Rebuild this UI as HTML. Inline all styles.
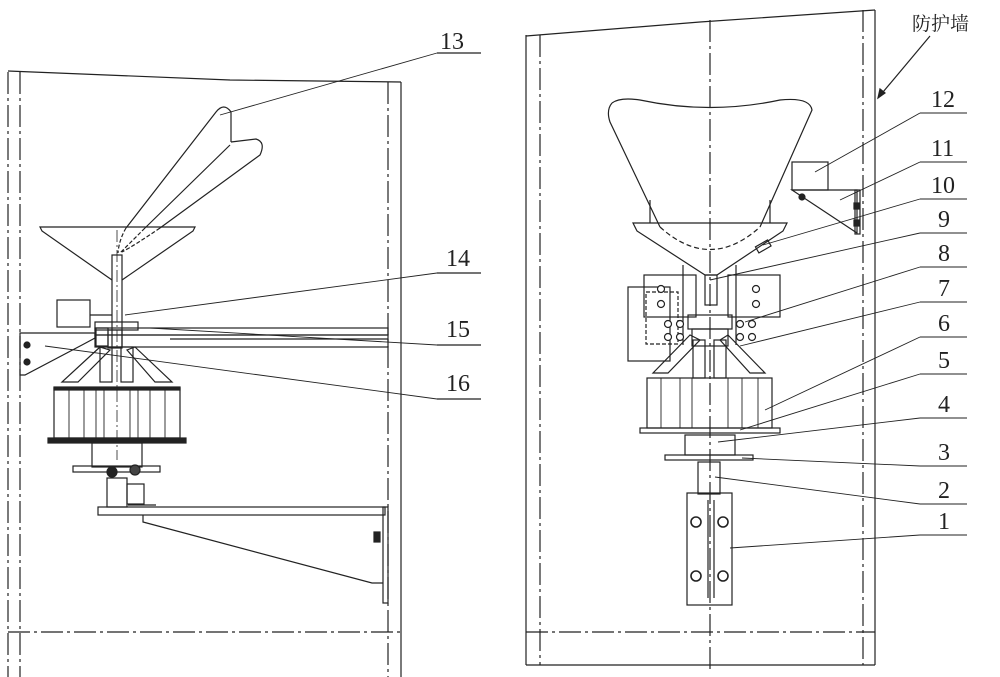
<!DOCTYPE html>
<html><head><meta charset="utf-8"><style>
html,body{margin:0;padding:0;background:#fff;width:1000px;height:677px;overflow:hidden}
svg{display:block}
text{font-family:"Liberation Serif","Noto Serif CJK SC",serif;font-size:24px;fill:#222;stroke:none;font-weight:normal}
</style></head><body>
<svg width="1000" height="677" viewBox="0 0 1000 677" xmlns="http://www.w3.org/2000/svg" fill="none" stroke="#222" stroke-width="1.2">
<!-- LEFT FRAME -->
<g stroke-dasharray="22,4,3,4">
<line x1="8" y1="72" x2="8" y2="677"/>
<line x1="20" y1="72" x2="20" y2="677"/>
<line x1="388" y1="82" x2="388" y2="677"/>
<line x1="8" y1="632" x2="401" y2="632"/>
</g>
<line x1="401" y1="82" x2="401" y2="677"/>
<polyline points="8,71 230,80 401,82"/>
<!-- left funnel -->
<polygon points="40,227 195,227 193,231 122,280 112,280 42,231"/>
<rect x="112" y="255" width="10" height="92" fill="#fff"/>
<line x1="117" y1="230" x2="117" y2="460" stroke-dasharray="12,3,2,3" stroke-width="0.8"/>
<!-- hopper 13 -->
<path d="M126,228 L216,112 Q224,102 231,112 L231,142 M231,142 L256,139 Q266,142 260,155 L160,228 M230,145 L145,228"/>
<path d="M126,228 Q119,240 118,253 M145,228 Q128,245 120,253 M160,228 Q135,245 122,252" stroke-dasharray="4,2"/>
<!-- left arm -->
<rect x="57" y="300" width="33" height="27"/>
<line x1="90" y1="315" x2="112" y2="315"/>
<rect x="95" y="322" width="43" height="8"/>
<polygon points="20,333 95,333 95,338 82,345 25,375 20,375"/>
<rect x="95" y="328" width="293" height="7"/>
<rect x="95" y="335" width="293" height="12"/>
<line x1="170" y1="339" x2="388" y2="339"/>
<rect x="96" y="328" width="12" height="18"/>
<rect x="108" y="330" width="14" height="18"/>
<circle cx="27" cy="345" r="3" fill="#222"/><circle cx="27" cy="362" r="3" fill="#222"/>
<!-- cone -->
<polygon points="100,347 62,382 78,382 110,350"/>
<polygon points="135,347 172,382 155,382 127,350"/>
<rect x="100" y="347" width="12" height="35"/><rect x="121" y="347" width="12" height="35"/>
<!-- rotor -->
<rect x="54" y="388" width="126" height="50"/>
<rect x="54" y="387" width="126" height="3" fill="#222"/>
<g stroke-width="0.9">
<line x1="69" y1="390" x2="69" y2="438"/><line x1="84" y1="390" x2="84" y2="438"/>
<line x1="96" y1="390" x2="96" y2="438"/><line x1="104" y1="390" x2="104" y2="438"/>
<line x1="130" y1="390" x2="130" y2="438"/><line x1="138" y1="390" x2="138" y2="438"/>
<line x1="150" y1="390" x2="150" y2="438"/><line x1="165" y1="390" x2="165" y2="438"/>
</g>
<rect x="48" y="438" width="138" height="5" fill="#222"/>
<rect x="92" y="443" width="50" height="24"/>
<rect x="73" y="466" width="87" height="6"/>
<circle cx="112" cy="472" r="5" fill="#222"/><circle cx="135" cy="470" r="5" fill="#444"/>
<rect x="107" y="478" width="20" height="29"/><rect x="127" y="484" width="17" height="20"/>
<!-- lower bracket -->
<rect x="98" y="507" width="287" height="8"/>
<line x1="128" y1="505" x2="156" y2="505"/>
<polyline points="143,515 143,522 372,583 383,583"/>
<rect x="383" y="507" width="5" height="96"/>
<rect x="374" y="532" width="6" height="10" fill="#222"/>
<!-- left labels -->
<text x="440" y="49">13</text><line x1="437" y1="53" x2="481" y2="53"/><line x1="437" y1="53" x2="220" y2="115" stroke-width="0.9"/>
<text x="446" y="266">14</text><line x1="437" y1="273" x2="481" y2="273"/><line x1="437" y1="273" x2="125" y2="315" stroke-width="0.9"/>
<text x="446" y="337">15</text><line x1="437" y1="345" x2="481" y2="345"/><line x1="437" y1="345" x2="150" y2="328" stroke-width="0.9"/>
<text x="446" y="391">16</text><line x1="437" y1="399" x2="481" y2="399"/><line x1="437" y1="399" x2="45" y2="346" stroke-width="0.9"/>

<!-- RIGHT FRAME -->
<g stroke-dasharray="22,4,3,4">
<line x1="540" y1="35" x2="540" y2="665"/>
<line x1="863" y1="10" x2="863" y2="665"/>
<line x1="526" y1="632" x2="875" y2="632"/>
<line x1="710" y1="20" x2="710" y2="670"/>
</g>
<line x1="526" y1="35" x2="526" y2="665"/>
<line x1="875" y1="10" x2="875" y2="665"/>
<polyline points="526,36 700,22 875,10"/>
<line x1="526" y1="665" x2="875" y2="665"/>
<text x="912" y="30" style="font-size:19px">防护墙</text>
<line x1="930" y1="36" x2="878" y2="98"/>
<polygon points="878,98 880,89 885,93" fill="#222"/>
<!-- right hopper -->
<path d="M612,103 Q620,97 640,100 Q710,115 780,100 Q810,97 812,110 L760,227"/>
<path d="M612,103 Q606,110 610,122 L660,227"/>
<path d="M660,227 Q710,272 760,227" stroke-dasharray="5,3"/>
<polygon points="633,223 787,223 783,231 717,275 705,275 637,231"/>
<rect x="705" y="275" width="12" height="30"/>
<line x1="650" y1="200" x2="650" y2="223"/><line x1="770" y1="200" x2="770" y2="223"/>
<rect x="756" y="243" width="14" height="7" transform="rotate(-30 763 246)"/>
<!-- mounts -->
<rect x="644" y="275" width="52" height="42"/><rect x="728" y="275" width="52" height="42"/>
<rect x="628" y="287" width="42" height="74"/>
<rect x="646" y="292" width="32" height="52" stroke-dasharray="4,2"/>
<line x1="683" y1="265" x2="683" y2="345"/><line x1="736" y1="265" x2="736" y2="345"/>
<g fill="#fff">
<circle cx="661" cy="289" r="3.5"/><circle cx="661" cy="304" r="3.5"/><circle cx="756" cy="289" r="3.5"/><circle cx="756" cy="304" r="3.5"/>
<circle cx="668" cy="324" r="3.5"/><circle cx="680" cy="324" r="3.5"/><circle cx="668" cy="337" r="3.5"/><circle cx="680" cy="337" r="3.5"/>
<circle cx="740" cy="324" r="3.5"/><circle cx="752" cy="324" r="3.5"/><circle cx="740" cy="337" r="3.5"/><circle cx="752" cy="337" r="3.5"/>
</g>
<rect x="688" y="315" width="44" height="14"/>
<rect x="692" y="329" width="36" height="17"/>
<!-- cone -->
<polygon points="690,335 653,373 668,373 700,340"/>
<polygon points="728,335 765,373 750,373 720,340"/>
<rect x="693" y="340" width="12" height="38"/><rect x="714" y="340" width="12" height="38"/>
<!-- rotor -->
<rect x="647" y="378" width="125" height="50"/>
<g stroke-width="0.9">
<line x1="661" y1="378" x2="661" y2="428"/><line x1="680" y1="378" x2="680" y2="428"/><line x1="692" y1="378" x2="692" y2="428"/>
<line x1="728" y1="378" x2="728" y2="428"/><line x1="742" y1="378" x2="742" y2="428"/><line x1="758" y1="378" x2="758" y2="428"/>
</g>
<rect x="640" y="428" width="140" height="5"/>
<rect x="685" y="435" width="50" height="20"/>
<rect x="665" y="455" width="88" height="5"/>
<rect x="698" y="462" width="22" height="32"/>
<rect x="687" y="493" width="45" height="112"/>
<line x1="708" y1="500" x2="708" y2="598"/><line x1="714" y1="500" x2="714" y2="598"/>
<g stroke-width="1.6"><circle cx="696" cy="522" r="5"/><circle cx="723" cy="522" r="5"/><circle cx="696" cy="576" r="5"/><circle cx="723" cy="576" r="5"/></g>
<!-- 12/11 -->
<rect x="792" y="162" width="36" height="28"/>
<polygon points="792,190 857,190 857,233"/>
<rect x="855" y="190" width="5" height="44"/>
<circle cx="802" cy="197" r="3" fill="#222"/>
<rect x="854" y="203" width="5" height="6" fill="#222"/><rect x="854" y="220" width="5" height="6" fill="#222"/>
<!-- right labels -->
<g stroke-width="0.9">
<text x="931" y="107">12</text><line x1="920" y1="113" x2="967" y2="113"/><line x1="920" y1="113" x2="815" y2="172"/>
<text x="931" y="156">11</text><line x1="920" y1="162" x2="967" y2="162"/><line x1="920" y1="162" x2="840" y2="200"/>
<text x="931" y="193">10</text><line x1="920" y1="199" x2="967" y2="199"/><line x1="920" y1="199" x2="763" y2="245"/>
<text x="938" y="227">9</text><line x1="920" y1="233" x2="967" y2="233"/><line x1="920" y1="233" x2="710" y2="280"/>
<text x="938" y="261">8</text><line x1="920" y1="267" x2="967" y2="267"/><line x1="920" y1="267" x2="745" y2="322"/>
<text x="938" y="296">7</text><line x1="920" y1="302" x2="967" y2="302"/><line x1="920" y1="302" x2="740" y2="346"/>
<text x="938" y="331">6</text><line x1="920" y1="337" x2="967" y2="337"/><line x1="920" y1="337" x2="765" y2="410"/>
<text x="938" y="368">5</text><line x1="920" y1="374" x2="967" y2="374"/><line x1="920" y1="374" x2="740" y2="430"/>
<text x="938" y="412">4</text><line x1="920" y1="418" x2="967" y2="418"/><line x1="920" y1="418" x2="718" y2="442"/>
<text x="938" y="460">3</text><line x1="920" y1="466" x2="967" y2="466"/><line x1="920" y1="466" x2="742" y2="458"/>
<text x="938" y="498">2</text><line x1="920" y1="504" x2="967" y2="504"/><line x1="920" y1="504" x2="715" y2="477"/>
<text x="938" y="529">1</text><line x1="920" y1="535" x2="967" y2="535"/><line x1="920" y1="535" x2="730" y2="548"/>
</g>
</svg>
</body></html>
